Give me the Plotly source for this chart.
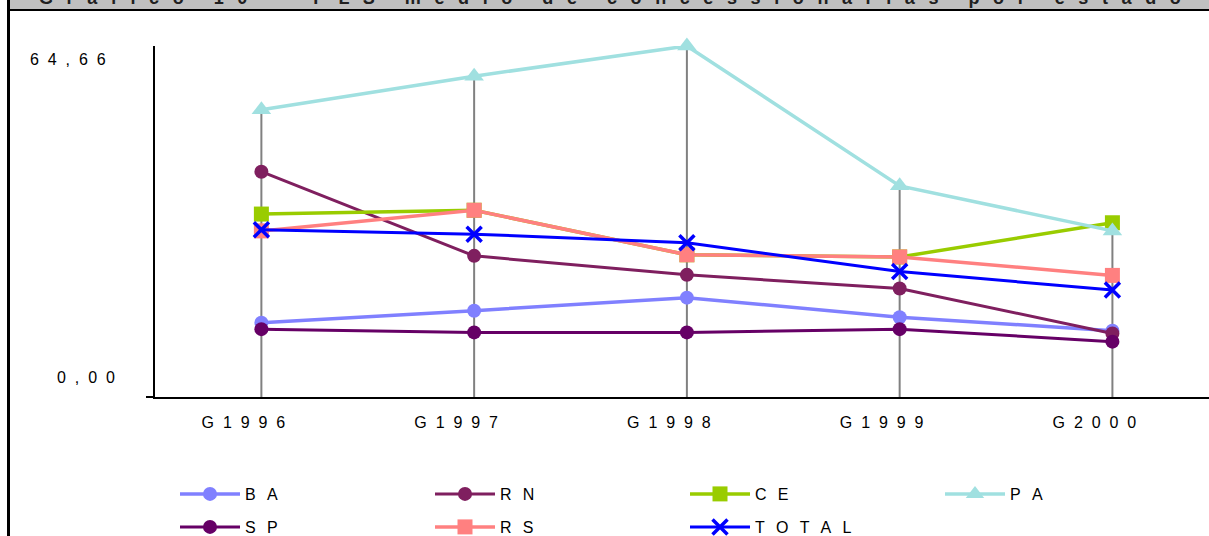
import plotly.graph_objects as go

# ---------------- data ----------------
categories = ["G1996", "G1997", "G1998", "G1999", "G2000"]
tick_labels = ["G  1  9  9  6", "G  1  9  9  7", "G  1  9  9  8", "G  1  9  9  9", "G  2  0  0  0"]

BA = [13.7, 15.9, 18.3, 14.7, 12.2]
RN = [41.5, 26.0, 22.5, 20.0, 11.7]
CE = [33.7, 34.4, 26.2, 25.8, 32.1]
PA = [52.9, 59.1, 64.66, 38.9, 30.6]
SP = [12.5, 11.9, 11.9, 12.5, 10.2]
RS = [30.6, 34.4, 26.2, 25.8, 22.4]
TOTAL = [30.8, 30.0, 28.4, 23.1, 19.7]

y_max = 64.66
y_label_max = "6  4  ,  6  6"
y_label_min = "0  ,  0  0"
title_text = "Gráfico 10 - PLS médio de concessionárias por estado"

# ---------------- layout constants ----------------
W, H = 1209, 536
L, R, T, B = 155, 0, 46, 139
PW, PH = W - L - R, H - T - B
FONT = "Liberation Sans, Arial, sans-serif"


def px_x(p):
    return (p - L) / PW


def px_y(p):
    return (H - B - p) / PH


def spaced(s, gap="\u2002\u2009", wgap="\u2002\u2002\u2002"):
    words = s.split(" ")
    return wgap.join(gap.join(list(w)) for w in words)


series = [
    ("BA", BA, "#8080FF", "circle", 14, 3.5, "legend"),
    ("RN", RN, "#7F1F5F", "circle", 14, 3.0, "legend"),
    ("CE", CE, "#99CC00", "square", 15, 3.5, "legend"),
    ("PA", PA, "#A0E0E0", "triangle-up", 17, 3.5, "legend"),
    ("SP", SP, "#660066", "circle", 14, 3.0, "legend2"),
    ("RS", RS, "#FF8080", "square", 15, 3.5, "legend2"),
    ("TOTAL", TOTAL, "#0000FF", "x-thin", 15, 3.0, "legend2"),
]

fig = go.Figure()

# drop lines from the highest value of each category down to the axis
all_vals = [s[1] for s in series]
drop_x, drop_y = [], []
for i, c in enumerate(categories):
    drop_x += [c, c, None]
    drop_y += [0, max(v[i] for v in all_vals), None]
fig.add_trace(go.Scatter(x=drop_x, y=drop_y, mode="lines",
                         line=dict(color="#808080", width=2),
                         showlegend=False, hoverinfo="skip", cliponaxis=False))

for name, vals, color, sym, size, lw, lg in series:
    if sym == "x-thin":
        marker = dict(symbol=sym, size=size, color=color,
                      line=dict(color=color, width=3.5))
    else:
        marker = dict(symbol=sym, size=size, color=color, line=dict(width=0))
    fig.add_trace(go.Scatter(
        x=categories, y=vals, mode="lines+markers", name=spaced(name),
        line=dict(color=color, width=lw), marker=marker,
        legend=lg, cliponaxis=False))

legend_common = dict(orientation="h", xref="container", yref="container",
                     xanchor="left", yanchor="middle",
                     font=dict(family=FONT, size=16, color="black"),
                     entrywidth=180, entrywidthmode="pixels",
                     itemwidth=60, bgcolor="rgba(0,0,0,0)",
                     traceorder="normal")

fig.update_layout(
    width=W, height=H,
    margin=dict(l=L, r=R, t=T, b=B, pad=0),
    paper_bgcolor="white", plot_bgcolor="white",
    font=dict(family=FONT, size=16, color="black"),
    showlegend=True,
    legend=dict(x=175 / W, y=1 - 494 / H, **legend_common),
    legend2=dict(x=175 / W, y=1 - 527 / H, **legend_common),
    xaxis=dict(type="category", range=[-0.5, 4.454],
               tickvals=categories, ticktext=tick_labels,
               showline=True, linecolor="black", linewidth=2,
               showgrid=False, zeroline=False, ticks="",
               ticklabelshift=-18, ticklabelstandoff=10,
               tickfont=dict(family=FONT, size=16, color="black")),
    yaxis=dict(range=[0, y_max], showline=True, linecolor="black", linewidth=2,
               showgrid=False, zeroline=False, ticks="outside",
               tickvals=[0], ticklen=7, tickwidth=2, tickcolor="black",
               showticklabels=False),
    shapes=[
        dict(type="rect", xref="paper", yref="paper", layer="below",
             x0=px_x(9), x1=px_x(W + 5), y0=px_y(-5), y1=px_y(10),
             fillcolor="#C0C0C0", line=dict(width=0)),
        dict(type="line", xref="paper", yref="paper",
             x0=px_x(8), x1=px_x(W + 5), y0=px_y(10), y1=px_y(10),
             line=dict(color="black", width=2)),
        dict(type="line", xref="paper", yref="paper",
             x0=px_x(8.5), x1=px_x(8.5), y0=px_y(-5), y1=px_y(H + 5),
             line=dict(color="black", width=3)),
    ],
    annotations=[
        dict(text=y_label_max, xref="paper", yref="y", x=0, y=y_max,
             xanchor="right", yanchor="middle", xshift=-47, yshift=-13,
             showarrow=False, font=dict(family=FONT, size=16, color="black")),
        dict(text=y_label_min, xref="paper", yref="y", x=0, y=0,
             xanchor="right", yanchor="middle", xshift=-38, yshift=20,
             showarrow=False, font=dict(family=FONT, size=16, color="black")),
        dict(text="<b>" + spaced(title_text, gap="  \u2009", wgap="      ") + "</b>",
             xref="paper", yref="paper",
             x=px_x(610), y=px_y(10), xanchor="center", yanchor="bottom",
             showarrow=False, font=dict(family=FONT, size=18, color="#202020")),
    ],
)

fig.write_html("out.html", config={"displayModeBar": False},
               post_script="document.body.style.margin='0';")
